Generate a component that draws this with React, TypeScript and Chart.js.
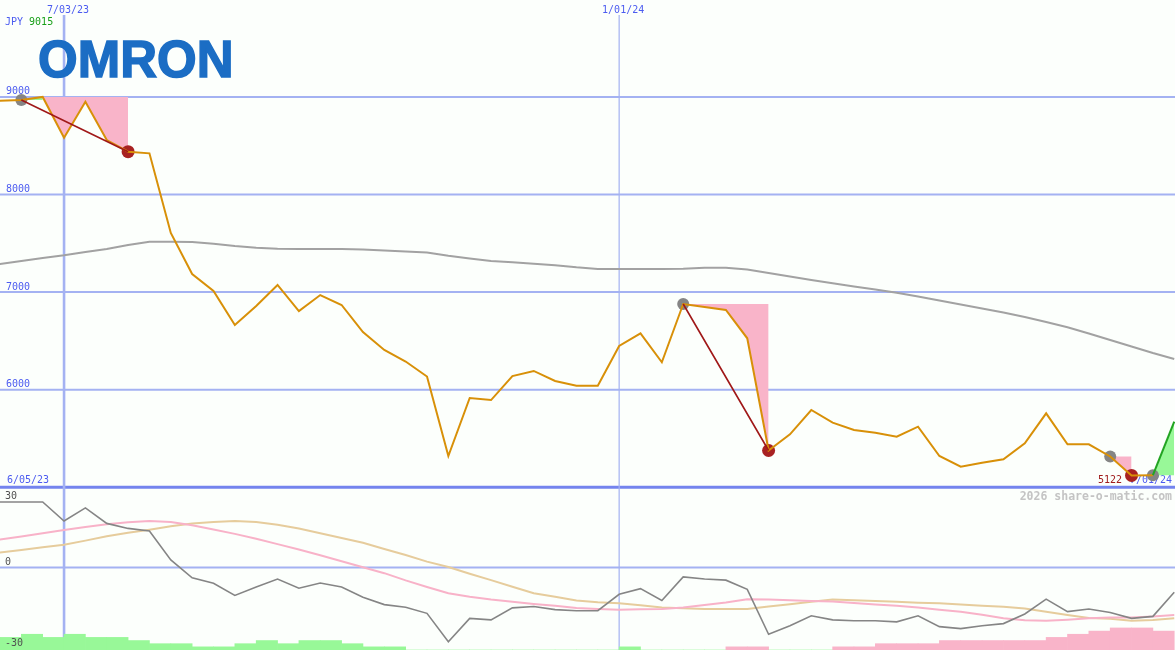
import { useEffect, useRef } from "react";
import { Chart, registerables } from "chart.js";

Chart.register(...registerables);

// ---- data (weekly, index 0 = 6/05/23, index 56 = 7/01/24) ----
const price = [8990, 8961, 8968, 9000, 8582, 8951, 8558, 8439, 8422, 7606, 7185, 7011, 6663, 6858, 7073, 6806, 6970, 6868, 6591, 6407, 6289, 6135, 5321, 5915, 5894, 6140, 6192, 6089, 6041, 6040, 6448, 6578, 6281, 6878, 6847, 6817, 6527, 5377, 5543, 5792, 5662, 5587, 5559, 5518, 5621, 5321, 5211, 5252, 5287, 5451, 5758, 5441, 5441, 5316, 5122, 5124, 5672];
const movingAvg = [7258, 7288, 7319, 7349, 7377, 7411, 7442, 7483, 7515, 7516, 7513, 7495, 7472, 7454, 7445, 7442, 7442, 7442, 7437, 7427, 7416, 7406, 7372, 7344, 7319, 7305, 7291, 7276, 7254, 7237, 7237, 7237, 7237, 7239, 7250, 7250, 7232, 7196, 7160, 7124, 7090, 7057, 7027, 6993, 6955, 6913, 6874, 6833, 6791, 6745, 6694, 6640, 6576, 6509, 6443, 6376, 6315];
const momentum = [30, 30, 30, 30, 21.3, 27.3, 20.2, 17.9, 16.7, 3.5, -4.7, -7.2, -12.8, -8.9, -5.3, -9.5, -7.1, -8.9, -13.6, -17.0, -18.2, -21.0, -34.0, -23.3, -24.0, -18.5, -17.9, -19.3, -19.8, -19.8, -12.3, -9.7, -15.1, -4.3, -5.3, -5.8, -10.0, -30.6, -26.7, -22.1, -24.0, -24.4, -24.4, -24.9, -22.1, -27.1, -28.0, -26.7, -25.7, -21.3, -14.5, -20.2, -19.0, -20.6, -23.3, -22.4, -11.3];
const signalFast = [11.4, 12.8, 14.2, 15.7, 17.2, 18.5, 19.8, 20.7, 21.3, 20.8, 19.3, 17.4, 15.4, 13.2, 10.7, 8.2, 5.6, 2.9, 0.1, -2.6, -5.9, -8.9, -11.8, -13.4, -14.7, -15.7, -16.7, -17.5, -18.5, -19.0, -19.3, -19.1, -19.0, -18.3, -17.2, -16.0, -14.5, -14.7, -15.0, -15.3, -15.6, -16.3, -16.9, -17.5, -18.3, -19.3, -20.3, -21.6, -23.2, -24.2, -24.4, -23.9, -23.2, -22.9, -22.9, -22.4, -21.8];
const signalSlow = [5.8, 6.9, 8.0, 9.3, 10.4, 12.3, 14.3, 15.9, 17.3, 18.9, 20.2, 20.8, 21.3, 20.8, 19.6, 17.9, 15.7, 13.5, 11.3, 8.5, 5.7, 2.7, 0.2, -2.9, -5.8, -8.8, -11.8, -13.4, -15.1, -15.9, -16.4, -17.3, -18.3, -18.7, -19.0, -19.0, -19.0, -17.9, -16.8, -15.7, -14.7, -15.0, -15.3, -15.7, -16.1, -16.4, -17.0, -17.5, -18.0, -18.8, -20.3, -21.8, -23.1, -23.5, -24.4, -24.0, -23.3];
const histogram = [4, 4, 5, 4, 5, 4, 4, 3, 2, 2, 1, 1, 2, 3, 2, 3, 3, 2, 1, 1, 0, 0, 0, 0, 0, 0, 0, 0, 0, 0, 1, 0, 0, 0, 0, -1, -1, 0, 0, 0, -1, -1, -2, -2, -2, -3, -3, -3, -3, -3, -4, -5, -6, -7, -7, -6];

const dropStarts = [3, 33, 53];
const dropEnds = [7, 37, 54];
const riseStarts = [2, 55];
const riseEnds = [3, 56];
const highMarks = [2, 33, 53, 55];
const lowMarks = [7, 37, 54];
const trendFrom = [2, 33];
const trendTo = [7, 37];
const greenSegmentFrom = 55;

const priceGrid = [6000, 7000, 8000, 9000];
const priceGridLabels = ["6000", "7000", "8000", "9000"];
const priceFloor = 5000;
const indicatorTicks = [30, 0, -30];
const indicatorLabels = ["30", "0", "-30"];
const dateGridIdx = [4, 30];
const dateGridLabels = ["7/03/23", "1/01/24"];
const startLabel = "6/05/23";
const endLabel = "7/01/24";
const lowLabel = "5122";
const currency = "JPY";
const headerValue = "9015";
const logoText = "OMRON";
const watermark = "2026 share-o-matic.com";

// ---- styles ----
const BG = "#fcfffc";
const GRID = "#a4b2f2";
const DIVIDER = "#7484ee";
const BLUE_TEXT = "#4c5cf0";
const ORANGE = "#d89008";
const PINK_FILL = "#f9b4c9";
const GREEN_FILL = "#98f898";
const MONO = '"DejaVu Sans Mono", monospace';

function rangeData(starts: number[], ends: number[]) {
  const out: { x: number; y: number | null }[] = [];
  starts.forEach((s, k) => {
    for (let i = s; i <= ends[k]; i++) out.push({ x: i, y: price[s] });
    out.push({ x: ends[k] + 0.5, y: null });
  });
  return out;
}

function trendData() {
  const out: { x: number; y: number | null }[] = [];
  trendFrom.forEach((s, k) => {
    out.push({ x: s, y: price[s] });
    out.push({ x: trendTo[k], y: price[trendTo[k]] });
    out.push({ x: trendTo[k] + 0.5, y: null });
  });
  return out;
}

const series = (arr: number[]) => arr.map((v, i) => ({ x: i, y: v }));

const decor = {
  id: "decor",
  beforeDraw(chart: any) {
    const { ctx, width, height } = chart;
    ctx.save();
    ctx.fillStyle = BG;
    ctx.fillRect(0, 0, width, height);
    ctx.restore();
  },
  beforeDatasetsDraw(chart: any) {
    const { ctx, width, height } = chart;
    const { x, y, yi } = chart.scales;
    ctx.save();
    const hline = (py: number, lw: number, color: string) => {
      ctx.strokeStyle = color;
      ctx.lineWidth = lw;
      ctx.beginPath();
      ctx.moveTo(0, py);
      ctx.lineTo(width, py);
      ctx.stroke();
    };
    priceGrid.forEach((v) => hline(y.getPixelForValue(v), 2, GRID));
    hline(yi.getPixelForValue(0), 2, GRID);
    hline(y.getPixelForValue(priceFloor), 3, DIVIDER);
    dateGridIdx.forEach((i, k) => {
      const px = x.getPixelForValue(i);
      ctx.strokeStyle = GRID;
      ctx.lineWidth = k === 0 ? 2.6 : 1.2;
      ctx.beginPath();
      ctx.moveTo(px, 15);
      ctx.lineTo(px, height);
      ctx.stroke();
    });

    // texts
    ctx.font = `10px ${MONO}`;
    ctx.textBaseline = "alphabetic";
    ctx.textAlign = "left";
    ctx.fillStyle = BLUE_TEXT;
    ctx.fillText(currency, 5, 25);
    const cw = ctx.measureText(currency + " ").width;
    ctx.fillStyle = "#18a018";
    ctx.fillText(headerValue, 5 + cw, 25);

    ctx.fillStyle = BLUE_TEXT;
    ctx.textAlign = "center";
    dateGridIdx.forEach((i, k) => {
      ctx.fillText(dateGridLabels[k], x.getPixelForValue(i) + 4, 13);
    });
    ctx.textAlign = "left";
    priceGrid.forEach((v, k) => {
      ctx.fillText(priceGridLabels[k], 6, y.getPixelForValue(v) - 2.5);
    });
    const floorY = y.getPixelForValue(priceFloor);
    ctx.fillText(startLabel, 7, floorY - 4.5);
    ctx.textAlign = "right";
    ctx.fillText(endLabel, 1172, floorY - 4.5);
    ctx.fillStyle = "#a01c1c";
    ctx.fillText(lowLabel, 1122, floorY - 4.5);

    ctx.font = `bold 11.5px ${MONO}`;
    ctx.fillStyle = "#c4c4c4";
    ctx.textAlign = "right";
    ctx.fillText(watermark, 1172, floorY + 13);

    // logo
    ctx.font = 'bold 52px "Liberation Sans", Arial, sans-serif';
    ctx.textAlign = "left";
    const m = ctx.measureText(logoText);
    const ink = m.actualBoundingBoxLeft + m.actualBoundingBoxRight;
    const sx = 191 / ink;
    const sy = 37 / m.actualBoundingBoxAscent;
    ctx.save();
    ctx.translate(40 + m.actualBoundingBoxLeft * sx, 77);
    ctx.scale(sx, sy);
    ctx.fillStyle = "#1b6dc4";
    ctx.strokeStyle = "#1b6dc4";
    ctx.lineWidth = 1.5;
    ctx.fillText(logoText, 0, 0);
    ctx.strokeText(logoText, 0, 0);
    ctx.restore();
    ctx.restore();
  },
  afterDatasetsDraw(chart: any) {
    const { ctx, height } = chart;
    const { yi } = chart.scales;
    ctx.save();
    // indicator labels (the lowest one sits at the panel bottom)
    ctx.font = `10px ${MONO}`;
    ctx.textBaseline = "alphabetic";
    ctx.textAlign = "left";
    ctx.fillStyle = "#505050";
    indicatorTicks.forEach((v, k) => {
      const py = v < 0 ? height - 4 : yi.getPixelForValue(v) - 2.5;
      ctx.fillText(indicatorLabels[k], 5, py);
    });
    ctx.restore();
  },
};

export default function App() {
  const ref = useRef<HTMLCanvasElement>(null);
  useEffect(() => {
    if (!ref.current) return;
    const chart = new Chart(ref.current, {
      type: "line",
      data: {
        datasets: [
          {
            label: "price",
            data: series(price),
            borderColor: ORANGE,
            borderWidth: 2,
            pointRadius: 0,
            order: 2,
            segment: {
              borderColor: (c: any) => (c.p0DataIndex >= greenSegmentFrom ? "#22a422" : ORANGE),
            },
          } as any,
          {
            label: "drops",
            data: rangeData(dropStarts, dropEnds),
            borderWidth: 0,
            borderColor: "rgba(0,0,0,0)",
            pointRadius: 0,
            spanGaps: false,
            fill: { target: 0, above: PINK_FILL, below: GREEN_FILL },
            order: 5,
          } as any,
          {
            label: "rises",
            data: rangeData(riseStarts, riseEnds),
            borderWidth: 0,
            borderColor: "rgba(0,0,0,0)",
            pointRadius: 0,
            spanGaps: false,
            fill: { target: 0, above: PINK_FILL, below: GREEN_FILL },
            order: 5,
          } as any,
          {
            label: "ma",
            data: series(movingAvg),
            borderColor: "#a2a2a2",
            borderWidth: 2,
            pointRadius: 0,
            order: 6,
          },
          {
            label: "trend",
            data: trendData(),
            borderColor: "#a01818",
            borderWidth: 1.6,
            pointRadius: 0,
            spanGaps: false,
            order: 1,
          } as any,
          {
            label: "highs",
            data: highMarks.map((i) => ({ x: i, y: price[i] })),
            showLine: false,
            pointRadius: 6,
            pointBorderWidth: 0,
            pointBackgroundColor: "#858585",
            order: 3,
          } as any,
          {
            label: "lows",
            data: lowMarks.map((i) => ({ x: i, y: price[i] })),
            showLine: false,
            pointRadius: 6.5,
            pointBorderWidth: 0,
            pointBackgroundColor: "#a82222",
            order: 3,
          } as any,
          {
            label: "momentum",
            data: series(momentum),
            yAxisID: "yi",
            borderColor: "#858585",
            borderWidth: 1.6,
            pointRadius: 0,
            order: 7,
          } as any,
          {
            label: "fast",
            data: series(signalFast),
            yAxisID: "yi",
            borderColor: "#f8b2c8",
            borderWidth: 2,
            pointRadius: 0,
            order: 8,
          } as any,
          {
            label: "slow",
            data: series(signalSlow),
            yAxisID: "yi",
            borderColor: "#e6cc9c",
            borderWidth: 2,
            pointRadius: 0,
            order: 8,
          } as any,
          {
            type: "bar",
            label: "hist",
            data: histogram.map((v, i) => ({ x: i + 0.5, y: Math.abs(v) })),
            backgroundColor: histogram.map((v) => (v >= 0 ? GREEN_FILL : PINK_FILL)),
            borderWidth: 0,
            barPercentage: 1,
            categoryPercentage: 1,
            yAxisID: "yh",
            order: 9,
          } as any,
        ],
      },
      options: {
        responsive: false,
        animation: false,
        devicePixelRatio: 1,
        events: [],
        layout: { padding: 0, autoPadding: false },
        plugins: { legend: { display: false }, tooltip: { enabled: false } },
        scales: {
          x: { type: "linear", min: 1, max: 1 + 1175 / 21.35, offset: false, display: false, grid: { offset: false } },
          y: { type: "linear", min: 3333, max: 9993, display: false },
          yi: { type: "linear", min: -37.79, max: 259.93, display: false },
          yh: { type: "linear", min: 0, max: 206.3, display: false },
        },
      } as any,
      plugins: [decor],
    });
    return () => chart.destroy();
  }, []);
  return (
    <div style={{ position: "fixed", left: 0, top: 0, width: 1175, height: 650, background: BG }}>
      <canvas ref={ref} width={1175} height={650} style={{ display: "block", width: 1175, height: 650 }} />
    </div>
  );
}
